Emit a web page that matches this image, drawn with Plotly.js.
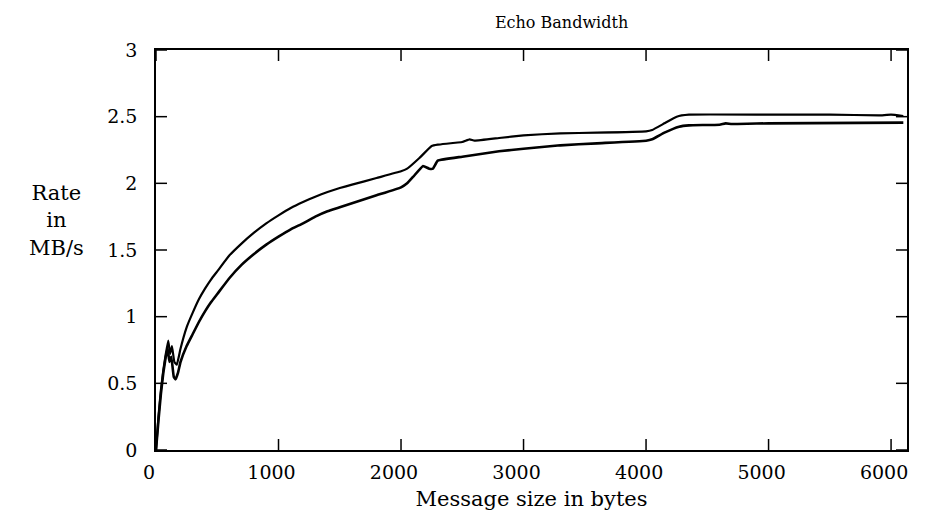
<!DOCTYPE html>
<html>
<head>
<meta charset="utf-8">
<script src="https://cdn.plot.ly/plotly-3.0.1.min.js"></script>
<style>html,body{margin:0;padding:0;background:#fff;}#chart{width:925px;height:527px;}</style>
</head>
<body>
<div id="chart"></div>
<script>
// Upper curve
const upperX = [0, 20, 40, 60, 80, 100, 115, 130, 150, 170, 200, 250, 300, 350, 400, 450, 500, 600, 700, 800, 900, 1000, 1100, 1200, 1300, 1400, 1500, 1600, 1800, 2000, 2050, 2150, 2250, 2300, 2500, 2560, 2600, 2800, 3000, 3300, 3600, 4000, 4050, 4150, 4250, 4350, 5000, 5500, 5900, 6000, 6100];
const upperY = [0, 0.25, 0.45, 0.6, 0.72, 0.82, 0.72, 0.78, 0.66, 0.64, 0.76, 0.92, 1.03, 1.13, 1.21, 1.28, 1.34, 1.46, 1.55, 1.63, 1.70, 1.76, 1.815, 1.86, 1.90, 1.935, 1.965, 1.99, 2.04, 2.09, 2.11, 2.19, 2.28, 2.29, 2.31, 2.33, 2.32, 2.34, 2.36, 2.375, 2.38, 2.39, 2.40, 2.45, 2.50, 2.515, 2.515, 2.515, 2.51, 2.515, 2.505];
// Lower curve
const lowerX = [0, 20, 40, 60, 80, 95, 110, 125, 145, 160, 180, 200, 250, 300, 350, 400, 450, 500, 600, 700, 800, 900, 1000, 1100, 1200, 1300, 1400, 1500, 1600, 1800, 2000, 2050, 2100, 2180, 2230, 2260, 2300, 2500, 2800, 3000, 3300, 3600, 4000, 4050, 4150, 4270, 4350, 4600, 4650, 4700, 5000, 6100];
const lowerY = [0, 0.22, 0.42, 0.58, 0.70, 0.76, 0.66, 0.70, 0.55, 0.53, 0.58, 0.66, 0.78, 0.87, 0.96, 1.04, 1.11, 1.17, 1.29, 1.39, 1.47, 1.54, 1.60, 1.655, 1.70, 1.75, 1.79, 1.82, 1.85, 1.91, 1.97, 2.0, 2.05, 2.13, 2.11, 2.11, 2.17, 2.20, 2.24, 2.26, 2.285, 2.30, 2.32, 2.33, 2.38, 2.425, 2.435, 2.44, 2.45, 2.445, 2.45, 2.455];

const xTicks = [0, 1000, 2000, 3000, 4000, 5000, 6000];
const yTicks = [0, 0.5, 1, 1.5, 2, 2.5, 3];

const titleText = 'Echo Bandwidth';
const xTitle = 'Message size in bytes';
const yTitle = 'Rate<br>in<br>MB/s';

const FONT = 'DejaVu Serif, Liberation Serif, serif';
const TICKLEN_PX = 11;
const PLOT_W = 925 - 156 - 18;
const PLOT_H = 527 - 50 - 77;

const traces = [
  {x: upperX, y: upperY, mode: 'lines', line: {color: '#000', width: 2.2, shape: 'spline', smoothing: 0.3}, hoverinfo: 'skip'},
  {x: lowerX, y: lowerY, mode: 'lines', line: {color: '#000', width: 2.6, shape: 'spline', smoothing: 0.3}, hoverinfo: 'skip'}
];

// Inside tick marks on all four sides (drawn at the tick values through the axis scales)
const tickLine = {color: '#000', width: 1.5};
const shapes = [];
const fx = TICKLEN_PX / PLOT_H;
const fy = TICKLEN_PX / PLOT_W;
xTicks.forEach(v => {
  shapes.push({type: 'line', xref: 'x', yref: 'y domain', x0: v, x1: v, y0: 0, y1: fx, line: tickLine, layer: 'above'});
  shapes.push({type: 'line', xref: 'x', yref: 'y domain', x0: v, x1: v, y0: 1 - fx, y1: 1, line: tickLine, layer: 'above'});
});
yTicks.forEach(v => {
  shapes.push({type: 'line', xref: 'x domain', yref: 'y', x0: 0, x1: fy, y0: v, y1: v, line: tickLine, layer: 'above'});
  shapes.push({type: 'line', xref: 'x domain', yref: 'y', x0: 1 - fy, x1: 1, y0: v, y1: v, line: tickLine, layer: 'above'});
});

const layout = {
  width: 925, height: 527,
  margin: {l: 156, r: 18, t: 50, b: 77},
  paper_bgcolor: '#fff', plot_bgcolor: '#fff',
  showlegend: false,
  title: {text: titleText, font: {family: FONT, size: 16, color: '#000'},
          x: 0.54, xref: 'paper', xanchor: 'center', y: 0.958, yref: 'container', yanchor: 'middle'},
  xaxis: {
    showgrid: false, zeroline: false,
    showline: true, linecolor: '#000', linewidth: 1.5, mirror: true,
    ticks: '', tickfont: {family: FONT, size: 19, color: '#000'},
    range: [0, 6130], tickmode: 'array', tickvals: xTicks, ticktext: xTicks.map(String),
    ticklabelshift: -7, ticklabelstandoff: 4,
    title: {text: xTitle, font: {family: FONT, size: 21, color: '#000'}, standoff: 10}
  },
  yaxis: {
    showgrid: false, zeroline: false,
    showline: true, linecolor: '#000', linewidth: 1.5, mirror: true,
    ticks: '', tickfont: {family: FONT, size: 19, color: '#000'},
    range: [0, 3], tickmode: 'array', tickvals: yTicks, ticktext: yTicks.map(String),
    ticklabelstandoff: 13
  },
  shapes: shapes,
  annotations: [{
    text: yTitle, xref: 'paper', yref: 'paper', x: -0.133, y: 0.575,
    xanchor: 'center', yanchor: 'middle', showarrow: false, align: 'center',
    font: {family: FONT, size: 21, color: '#000'}
  }]
};

Plotly.newPlot('chart', traces, layout, {displayModeBar: false});
</script>
</body>
</html>
